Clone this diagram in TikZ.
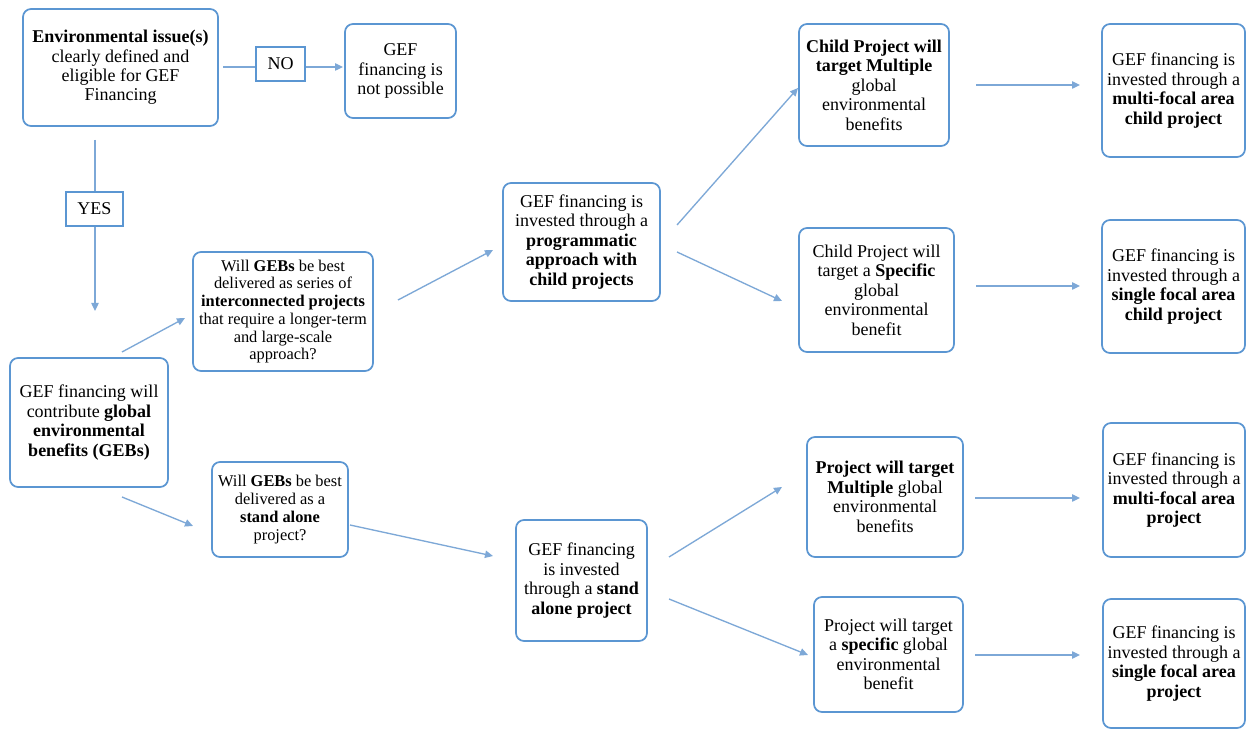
\documentclass[tikz,border=0pt]{standalone}
\usepackage{fontspec}
\setmainfont{Liberation Serif}
\usetikzlibrary{arrows.meta}
\definecolor{bcol}{RGB}{91,150,210}
\definecolor{lcol}{RGB}{125,168,215}
\begin{document}
\begin{tikzpicture}[x=0.75pt,y=-0.75pt,
  box/.style={draw=bcol, line width=1.3pt, rounded corners=6pt, align=center, inner sep=0pt, font=\fontsize{13.5}{14.6}\selectfont},
  sbox/.style={box, font=\fontsize{12.3}{13.3}\selectfont},
  lab/.style={draw=bcol, line width=1.3pt, inner sep=0pt, font=\fontsize{13.5}{14.6}\selectfont},
  sz/.style 2 args={minimum width=#1*0.75pt, minimum height=#2*0.75pt},
  ln/.style={draw=lcol, line width=1pt},
  arr/.style={ln, -{Triangle[length=6pt,width=5.5pt]}, color=lcol}]
\useasboundingbox (0,0) rectangle (1246,730);
\fill[white] (0,0) rectangle (1246,730);
% nodes
\node[box, sz={195}{117}] (env) at (120.5,67.5) {\textbf{Environmental issue(s)}\\clearly defined and\\eligible for GEF\\Financing};
\node[lab, sz={49}{34}] (no) at (280.5,64) {NO};
\node[box, sz={111}{94}] (notp) at (400.5,71) {GEF\\financing is\\not possible};
\node[lab, sz={57}{34}] (yes) at (94.5,209) {YES};
\node[box, sz={158}{129}] (contrib) at (89,422.5) {GEF financing will\\contribute \textbf{global}\\\textbf{environmental}\\\textbf{benefits (GEBs)}};
\node[sbox, sz={180}{119}] (inter) at (283,311.5) {Will \textbf{GEBs} be best\\delivered as series of\\\textbf{interconnected projects}\\that require a longer-term\\and large-scale\\approach?};
\node[sbox, sz={136}{95}] (stand) at (280,509.5) {Will \textbf{GEBs} be best\\delivered as a\\\textbf{stand alone}\\project?};
\node[box, sz={157}{118}] (prog) at (581.5,242) {GEF financing is\\invested through a\\\textbf{programmatic}\\\textbf{approach with}\\\textbf{child projects}};
\node[box, sz={150}{122}] (cmul) at (874,85) {\textbf{Child Project will}\\\textbf{target Multiple}\\global\\environmental\\benefits};
\node[box, sz={155}{124}] (cspec) at (876.5,290) {Child Project will\\target a \textbf{Specific}\\global\\environmental\\benefit};
\node[box, sz={143}{133}] (mfc) at (1173.5,90.5) {GEF financing is\\invested through a\\\textbf{multi-focal area}\\\textbf{child project}};
\node[box, sz={143}{133}] (sfc) at (1173.5,286.5) {GEF financing is\\invested through a\\\textbf{single focal area}\\\textbf{child project}};
\node[box, sz={131}{121}] (sap) at (581.5,580.5) {GEF financing\\is invested\\through a \textbf{stand}\\\textbf{alone project}};
\node[box, sz={156}{120}] (pmul) at (885,497) {\textbf{Project will target}\\\textbf{Multiple} global\\environmental\\benefits};
\node[box, sz={149}{115}] (pspec) at (888.5,654.5) {Project will target\\a \textbf{specific} global\\environmental\\benefit};
\node[box, sz={142}{134}] (mfp) at (1174,490) {GEF financing is\\invested through a\\\textbf{multi-focal area}\\\textbf{project}};
\node[box, sz={142}{129}] (sfp) at (1174,663.5) {GEF financing is\\invested through a\\\textbf{single focal area}\\\textbf{project}};
% connector end points
\coordinate (e1) at (223,67);
\coordinate (e2) at (343,67);
\coordinate (y1) at (95,140);
\coordinate (y2) at (95,311);
\coordinate (a1s) at (122,352); \coordinate (a1e) at (185,318);
\coordinate (a2s) at (122,497); \coordinate (a2e) at (193,526);
\coordinate (a3s) at (398,300); \coordinate (a3e) at (493,250);
\coordinate (a4s) at (350,525); \coordinate (a4e) at (493,556);
\coordinate (a5s) at (677,225); \coordinate (a5e) at (798,88);
\coordinate (a6s) at (677,252); \coordinate (a6e) at (782,301);
\coordinate (a7s) at (976,85);  \coordinate (a7e) at (1080,85);
\coordinate (a8s) at (976,286); \coordinate (a8e) at (1080,286);
\coordinate (a9s) at (669,557); \coordinate (a9e) at (782,487);
\coordinate (a10s) at (669,599); \coordinate (a10e) at (808,655);
\coordinate (a11s) at (975,498); \coordinate (a11e) at (1080,498);
\coordinate (a12s) at (975,655); \coordinate (a12e) at (1080,655);
% connectors
\draw[ln] (e1) -- (e1 -| no.west);
\draw[arr] (e1 -| no.east) -- (e2);
\draw[ln] (y1) -- (y1 |- yes.north);
\draw[arr] (y1 |- yes.south) -- (y2);
\draw[arr] (a1s) -- (a1e);
\draw[arr] (a2s) -- (a2e);
\draw[arr] (a3s) -- (a3e);
\draw[arr] (a4s) -- (a4e);
\draw[arr] (a5s) -- (a5e);
\draw[arr] (a6s) -- (a6e);
\draw[arr] (a7s) -- (a7e);
\draw[arr] (a8s) -- (a8e);
\draw[arr] (a9s) -- (a9e);
\draw[arr] (a10s) -- (a10e);
\draw[arr] (a11s) -- (a11e);
\draw[arr] (a12s) -- (a12e);
\end{tikzpicture}
\end{document}
